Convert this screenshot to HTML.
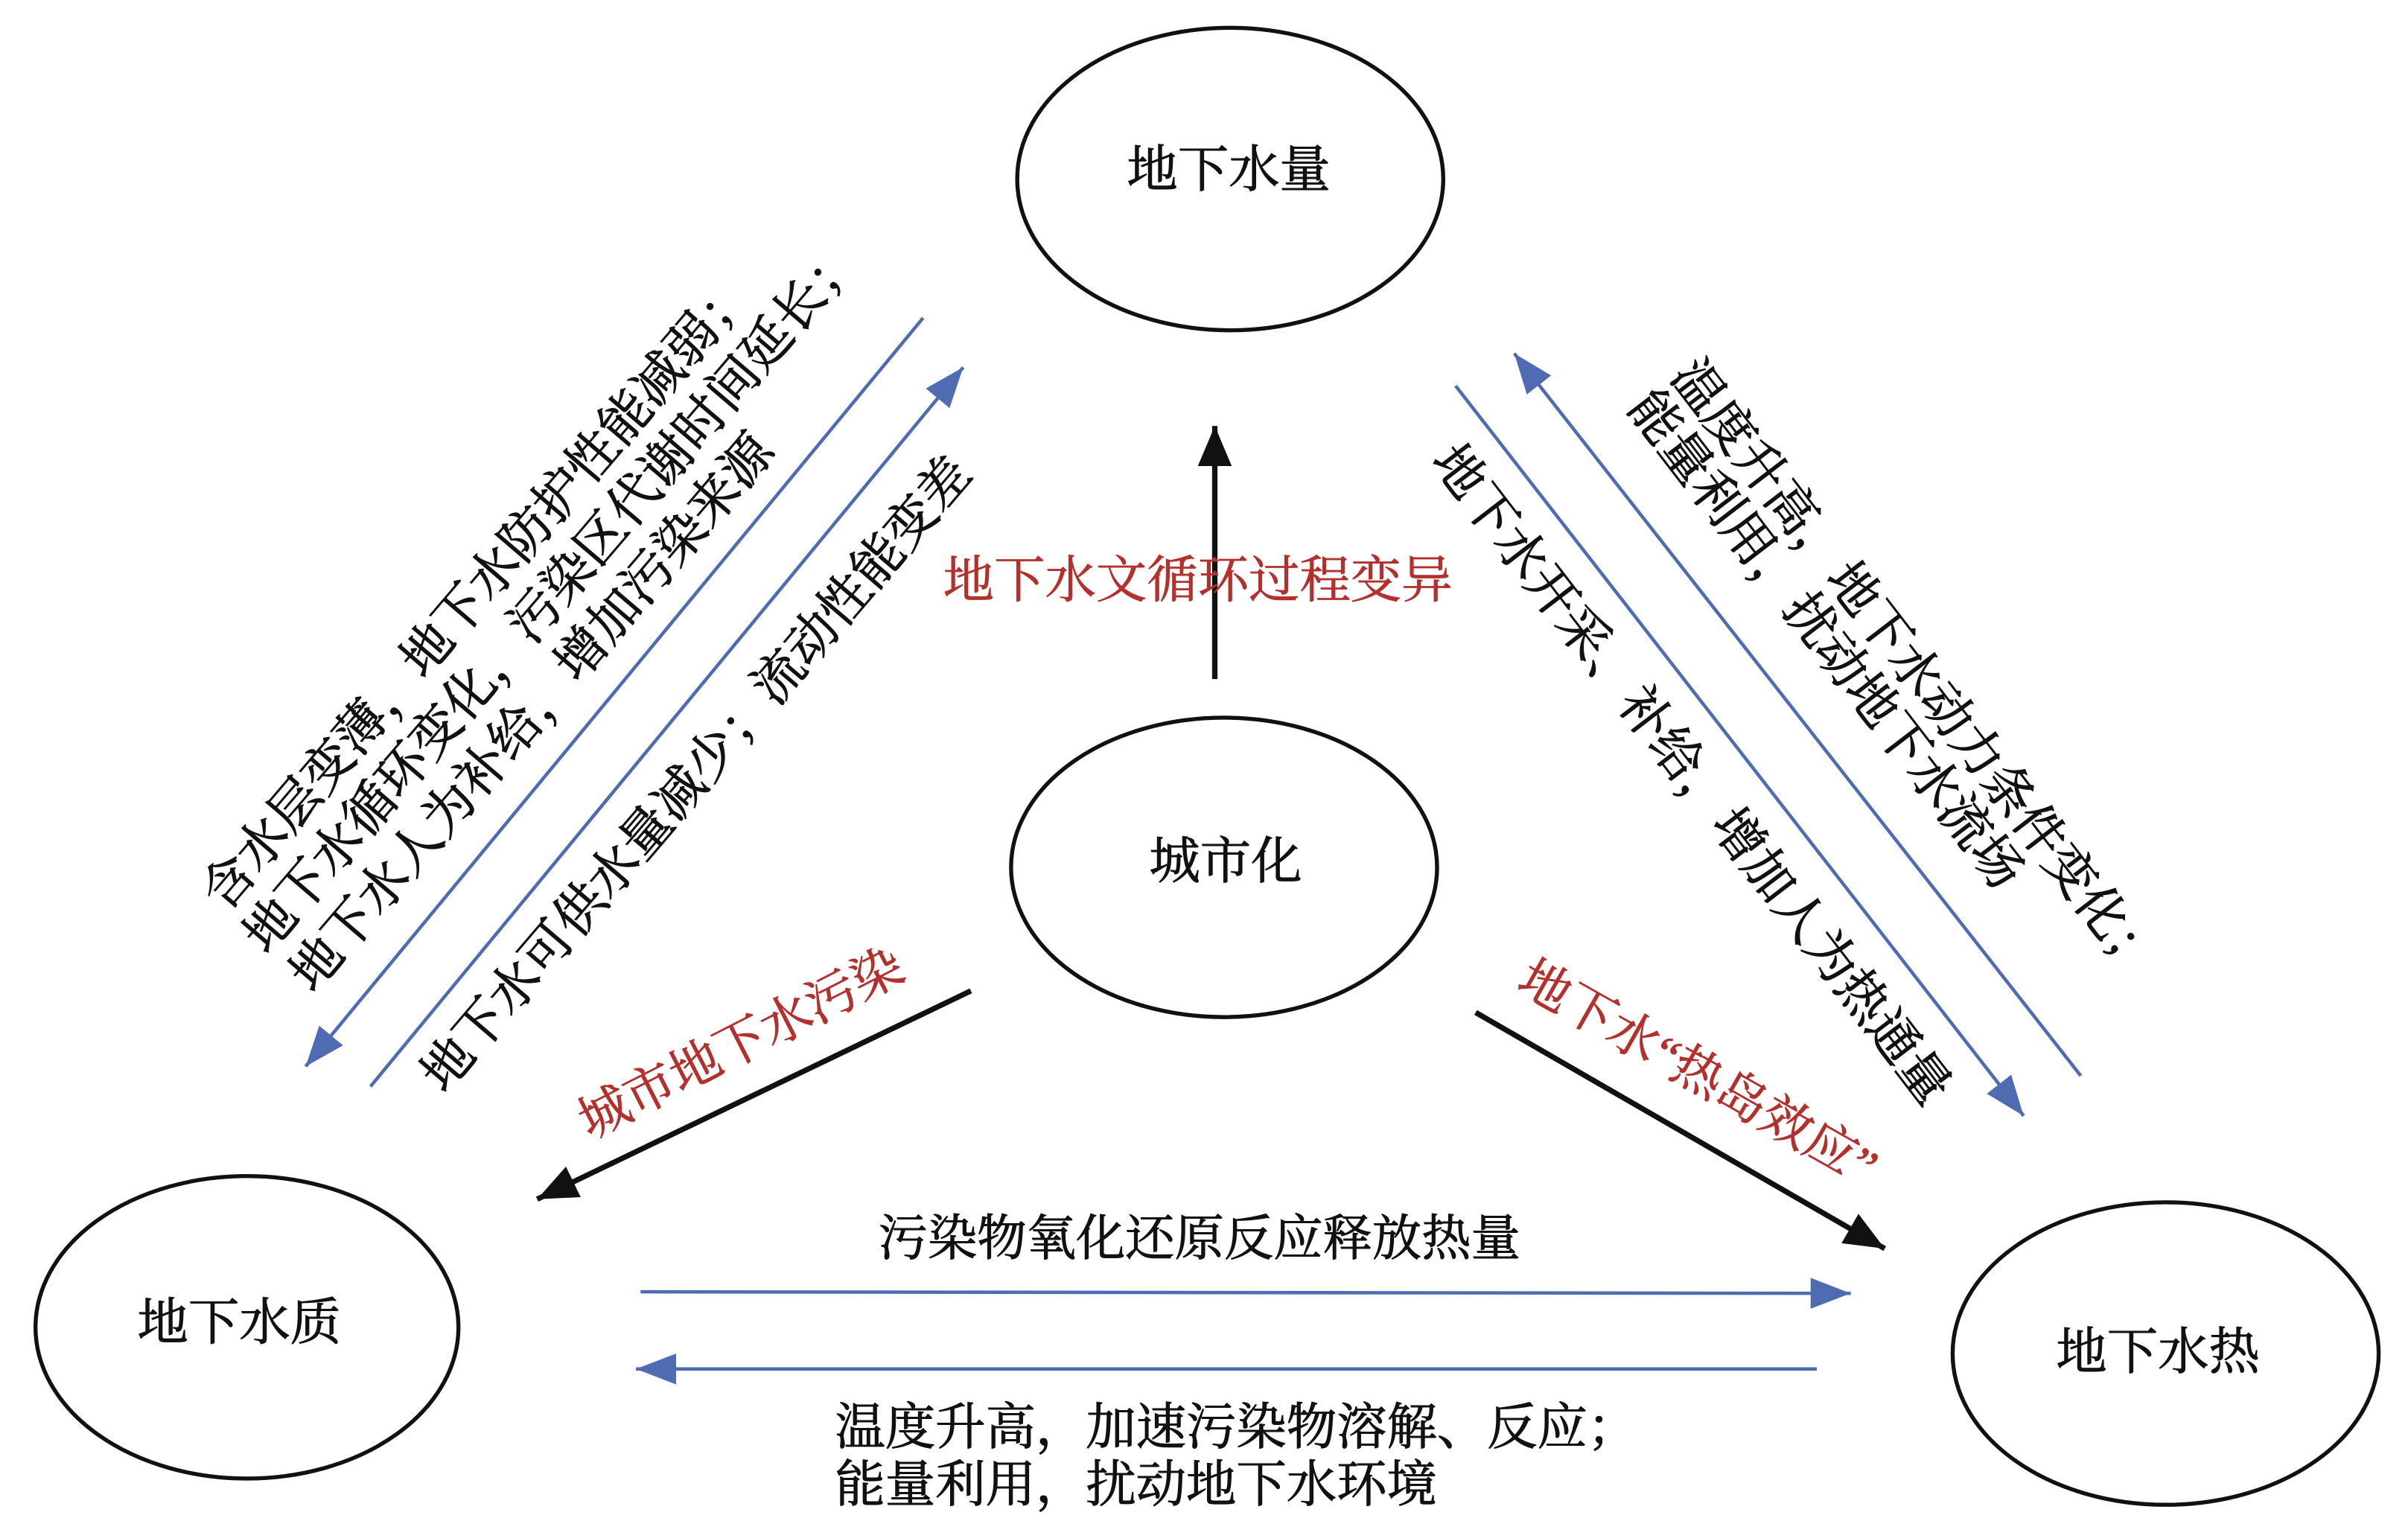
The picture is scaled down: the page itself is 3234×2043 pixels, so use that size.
<!DOCTYPE html>
<html><head><meta charset="utf-8"><style>
html,body{margin:0;padding:0;background:#fff}
svg{display:block}
text{font-family:"Liberation Serif","Noto Serif CJK SC",serif}
</style></head><body>
<svg width="3234" height="2043" viewBox="0 0 1560 985.5" preserveAspectRatio="none" xmlns="http://www.w3.org/2000/svg">
<defs>
<marker id="bm" markerUnits="userSpaceOnUse" markerWidth="30" markerHeight="24" refX="26" refY="10" orient="auto"><path d="M0,0 L26,10 L0,20 z" fill="#4f6cb3"/></marker>
<marker id="km" markerUnits="userSpaceOnUse" markerWidth="30" markerHeight="26" refX="26" refY="11" orient="auto"><path d="M0,0 L26,11 L0,22 z" fill="#111"/></marker>
</defs>
<rect width="1560" height="985.5" fill="#fff"/>
<g fill="none" stroke="#111" stroke-width="2.6">
<ellipse cx="797" cy="116" rx="138" ry="98"/>
<ellipse cx="793" cy="562" rx="138" ry="97"/>
<ellipse cx="160" cy="860" rx="137" ry="98"/>
<ellipse cx="1403" cy="877" rx="138" ry="98"/>
</g>
<g stroke="#111" stroke-width="3.5">
<line x1="787" y1="440" x2="787" y2="276" marker-end="url(#km)"/>
<line x1="629" y1="642" x2="348" y2="777" marker-end="url(#km)"/>
<line x1="956" y1="656" x2="1221" y2="809" marker-end="url(#km)"/>
</g>
<g stroke="#4f6cb3" stroke-width="2.2">
<line x1="598" y1="206" x2="198" y2="691" marker-end="url(#bm)"/>
<line x1="240" y1="704" x2="624" y2="238" marker-end="url(#bm)"/>
<line x1="943" y1="250" x2="1311" y2="723" marker-end="url(#bm)"/>
<line x1="1348" y1="697" x2="981" y2="229" marker-end="url(#bm)"/>
<line x1="415" y1="837" x2="1199" y2="838" marker-end="url(#bm)"/>
<line x1="1177" y1="887" x2="412" y2="887" marker-end="url(#bm)"/>
</g>
<g font-size="33" fill="#111" stroke="#111" stroke-width="0.5" text-anchor="middle" dominant-baseline="central">
<text x="796" y="110">地下水量</text>
<text x="794" y="558">城市化</text>
<text x="155" y="857">地下水质</text>
<text x="1398" y="876">地下水热</text>
<text x="777" y="803" font-size="32">污染物氧化还原反应释放热量</text>
</g>
<g font-size="32.5" fill="#111" stroke="#111" stroke-width="0.5" dominant-baseline="central">
<text x="541" y="925">温度升高，加速污染物溶解、反应；</text>
<text x="541" y="962">能量利用，扰动地下水环境</text>
</g>
<g font-size="33" fill="#b3302c" stroke="#b3302c" stroke-width="0.4" text-anchor="middle" dominant-baseline="central">
<text x="776" y="376">地下水文循环过程变异</text>
<text transform="translate(480,676) rotate(-27)">城市地下水污染</text>
<text transform="translate(1100,695) rotate(29.5)">地下水“热岛效应”</text>
</g>
<g font-size="33" fill="#111" stroke="#111" stroke-width="0.5" dominant-baseline="central">
<text transform="translate(148,572) rotate(-49.5)" x="-16">含水层变薄，地下水防护性能减弱；</text>
<text transform="translate(175,600) rotate(-49.5)" x="-16">地下水循环变化，污染区代谢时间延长；</text>
<text transform="translate(205,625) rotate(-49.5)" x="-16">地下水人为补给，增加污染来源</text>
<text transform="translate(290,690) rotate(-49.5)" x="-16">地下水可供水量减少；流动性能变差</text>
<text transform="translate(1100,250) rotate(52.5)" x="-16">温度升高，地下水动力条件变化；</text>
<text transform="translate(1072,270) rotate(52.5)" x="-16">能量利用，扰动地下水流场</text>
<text transform="translate(945,305) rotate(52.5)" x="-16">地下水开采、补给，增加人为热通量</text>
</g>
</svg>
</body></html>
